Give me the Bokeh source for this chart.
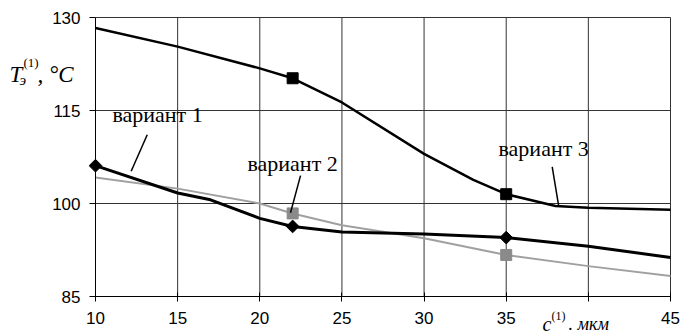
import math
from bokeh.plotting import figure
from bokeh.models import Range1d, FixedTicker, Label, LinearAxis
from bokeh.embed import file_html
from bokeh.resources import INLINE

# ---- data ----
v1_x = [10, 15, 17, 20, 22, 25, 30, 35, 40, 45]
v1_y = [106.1, 101.7, 100.6, 97.6, 96.3, 95.4, 95.1, 94.5, 93.1, 91.3]
v1_mx = [10, 22, 35]
v1_my = [106.1, 96.3, 94.5]

v2_x = [10, 15, 20, 22, 25, 30, 35, 40, 45]
v2_y = [104.2, 102.4, 100.0, 98.4, 96.5, 94.4, 91.7, 89.9, 88.3]
v2_mx = [22, 35]
v2_my = [98.4, 91.7]

v3_x = [10, 15, 20, 22, 25, 30, 33, 35, 38, 40, 45]
v3_y = [128.3, 125.3, 121.8, 120.2, 116.3, 108.0, 103.8, 101.5, 99.6, 99.3, 99.0]
v3_mx = [22, 35]
v3_my = [120.2, 101.5]

x_ticks = [10, 15, 20, 25, 30, 35, 40, 45]
y_ticks = [85, 100, 115, 130]
series_names = ["вариант 1", "вариант 2", "вариант 3"]

SERIF = "Times New Roman"
W, H = 683, 334

# plot box inside canvas (pixels): x=10 at 95, x=45 at 670; y=130 at 17, y=85 at 296
XMIN, XMAX, YMIN, YMAX = 10, 45, 85, 130
PL, PR, PT, PB = 95, 670, 17, 296
kx = (PR - PL) / (XMAX - XMIN)
ky = (PB - PT) / (YMAX - YMIN)
x_range = Range1d(XMIN - PL / kx, XMAX + (W - PR) / kx)
y_range = Range1d(YMIN - (H - PB) / ky, YMAX + PT / ky)

p = figure(width=W, height=H, output_backend="svg", toolbar_location=None,
           x_range=x_range, y_range=y_range,
           x_axis_location=None, y_axis_location=None, min_border=0)
p.background_fill_color = "white"
p.border_fill_color = "white"
p.outline_line_color = None
p.grid.visible = False

# grid lines (including the box's top and right edges)
p.segment(x0=x_ticks[1:], y0=YMIN, x1=x_ticks[1:], y1=YMAX, line_color="#333333", line_width=1)
p.segment(x0=XMIN, y0=y_ticks[1:], x1=XMAX, y1=y_ticks[1:], line_color="#333333", line_width=1)

xaxis = LinearAxis(fixed_location=YMIN, bounds=(XMIN, XMAX), ticker=FixedTicker(ticks=x_ticks))
yaxis = LinearAxis(fixed_location=XMIN, bounds=(YMIN, YMAX), ticker=FixedTicker(ticks=y_ticks))
for ax in (xaxis, yaxis):
    ax.axis_line_color = "black"
    ax.major_tick_line_color = "black"
    ax.minor_tick_line_color = None
    ax.major_label_text_font = "Liberation Sans"
    ax.major_label_text_font_size = "17px"
    ax.major_label_text_color = "black"
xaxis.major_label_overrides = {40: ""}
xaxis.major_tick_in = 4
xaxis.major_tick_out = 5
xaxis.major_label_standoff = 10
yaxis.major_tick_in = 0
yaxis.major_tick_out = 6
yaxis.major_label_standoff = 9
p.add_layout(xaxis, "below")
p.add_layout(yaxis, "left")

# lines
p.line(v2_x, v2_y, line_color="#a0a0a0", line_width=2)
p.line(v1_x, v1_y, line_color="black", line_width=3)
p.line(v3_x, v3_y, line_color="black", line_width=2.5)

# markers
p.scatter(v2_mx, v2_my, marker="square", size=11, fill_color="#8a8a8a", line_color="#8a8a8a")
p.scatter(v1_mx, v1_my, marker="square", angle=math.pi / 4, size=9, fill_color="black", line_color="black")
p.scatter(v3_mx, v3_my, marker="square", size=11, fill_color="black", line_color="black")

# leader lines
p.segment(x0=[13.15, 22.48, 37.8], y0=[111.1, 104.5, 105.9],
          x1=[12.17, 21.87, 38.2], y1=[105.2, 98.5, 99.5],
          line_color="black", line_width=1.5)

# series labels
for name, lx, ly in zip(series_names, [11.03, 19.25, 34.53], [114.35, 106.45, 108.9]):
    p.add_layout(Label(x=lx, y=ly, text=name, text_font=SERIF,
                       text_font_size="22px", text_color="black", text_baseline="alphabetic"))

def lab(text, px, py, size, style="normal"):
    # px, py: canvas pixel position (top-left origin)
    p.add_layout(Label(x=px, y=H - py, x_units="screen", y_units="screen", text=text,
                       text_font=SERIF, text_font_size=size, text_font_style=style,
                       text_color="black", text_align="left", text_baseline="alphabetic"))

# y axis title: T_э^(1), °C
lab("T", 9, 74, "23px", "italic")
lab("э", 19, 79, "15px", "italic")
lab("(1)", 23, 62, "13px")
lab(", °C", 37, 74, "23px", "italic")

# x axis title: c^(1), мкм
lab("c", 542, 323, "20px", "italic")
lab("(1)", 551, 315, "12px")
lab(". мкм", 568, 323, "18px", "italic")

open("out.html", "w").write(file_html(p, INLINE))
